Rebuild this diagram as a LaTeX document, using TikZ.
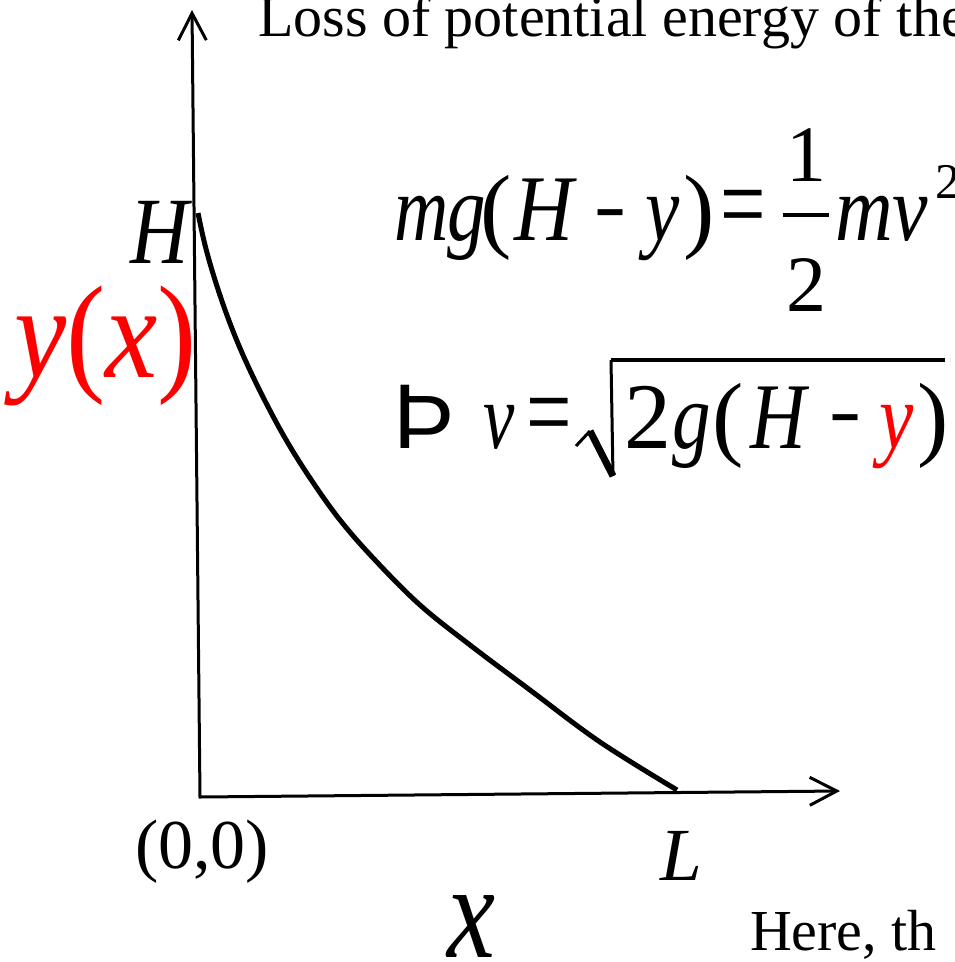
\documentclass[tikz,border=0pt]{standalone}
\usepackage{fontspec}
\usepackage{graphicx}
\setmainfont{Liberation Serif}
\newfontfamily\thornfont{Liberation Sans}
\usetikzlibrary{arrows.meta}
\newcommand\fsz[1]{\fontsize{#1}{#1}\selectfont}
\newcommand\sx[2]{\scalebox{#1}[1]{#2}}
\begin{document}
\begin{tikzpicture}[x=1pt,y=-1pt,
  gl/.style={anchor=base west,inner sep=0pt,outer sep=0pt},
  glc/.style={anchor=base,inner sep=0pt,outer sep=0pt},
  sym/.style={anchor=center,inner sep=0pt,outer sep=0pt},
  big/.style={font=\fsz{94}},
  bigit/.style={font=\fsz{94}\itshape},
  eqsign/.style={sym,font=\fsz{112}},
  minussign/.style={sym,font=\fsz{80}},
  redtxt/.style={text=red},
  axisline/.style={line width=3pt,line join=miter,
    {Straight Barb[length=27pt,width=28pt,line width=3pt]}-{Straight Barb[length=27pt,width=28pt,line width=3pt]}},
  curveline/.style={line width=5pt,line cap=butt},
  rule/.style={line width=4.5pt}]
\useasboundingbox (0,0) rectangle (955,962);

% axes
\coordinate (O) at (200,797);
\coordinate (Ytip) at (192,10);
\coordinate (Xtip) at (840,791);
\draw[axisline] (Ytip) -- (O) -- (Xtip);

% curve
\draw[curveline] plot[smooth,tension=0.6] coordinates {(198,213) (205,245) (215,280) (228,318) (243,355) (262,395) (285,438) (310,478) (340,520) (375,560) (420,605) (470,645) (530,690) (600,742) (677,790)};

% texts
\node[gl,font=\fsz{58}] (loss) at (258,36) {Loss of potential energy of the};
\node[gl,font=\fsz{58}] (here) at (750,950) {Here, th};
\node[gl,font=\fsz{95}\itshape] (Hlab) at (130,263) {\sx{0.85}{H}};
\node[gl,font=\fsz{132},redtxt] (yx) at (14,377) {\sx{0.89}{\itshape y\upshape(\itshape x\upshape)}};
\node[gl,font=\fsz{70}] (orig) at (135,868) {(0,0)};
\node[gl,font=\fsz{75}\itshape] (Llab) at (660,880) {L};
\node[gl,font=\fsz{135}\itshape] (xlab) at (447,957) {\sx{0.8}{x}};

% equation 1
\node[gl,bigit] (e1m) at (394,240) {\sx{0.8}{m}};
\node[gl,bigit] (e1g) at (447,240) {\sx{0.82}{g}};
\node[gl,big] (e1lp) at (480,240) {(};
\node[gl,bigit] (e1H) at (514,240) {\sx{0.87}{H}};
\node[minussign] (e1minus) at (610,221) {\sx{1.2}{-}};
\node[gl,bigit] (e1y) at (645,240) {\sx{0.82}{y}};
\node[gl,big] (e1rp) at (683,240) {)};
\node[eqsign] (e1eq) at (743,216) {\sx{0.72}{=}};
\coordinate (fbL) at (783,215);
\coordinate (fbR) at (829,215);
\draw[rule] (fbL) -- (fbR);
\node[glc,font=\fsz{80}] (e1one) at (806,181) {1};
\node[glc,font=\fsz{80}] (e1two) at (806,311) {2};
\node[gl,bigit] (e1mv) at (835,240) {\sx{0.85}{mv}};
\node[gl,font=\fsz{50}] (e1sq) at (935,198) {2};

% equation 2
\node[gl,font=\fsz{92}\thornfont] (e2th) at (393,448) {Þ};
\node[gl,bigit] (e2v) at (483,448) {\sx{0.75}{v}};
\node[eqsign] (e2eq) at (549,424) {\sx{0.72}{=}};
\coordinate (r1) at (576,446);
\coordinate (r2) at (590,431);
\coordinate (r3) at (613,476);
\coordinate (r4) at (611,360);
\coordinate (r5) at (945,360);
\draw[line width=3pt,line join=miter] (r1) -- (r2);
\draw[line width=7pt,line cap=butt] (r2) -- (r3);
\draw[line width=3pt,line join=miter] (r3) -- (r4);
\draw[rule] (r4) -- (r5);
\node[gl,big] (e2two) at (624,448) {2};
\node[gl,bigit] (e2g) at (672,448) {\sx{0.82}{g}};
\node[gl,big] (e2lp) at (712,448) {(};
\node[gl,bigit] (e2H) at (750,448) {\sx{0.82}{H}};
\node[minussign] (e2minus) at (845,426) {\sx{1.2}{-}};
\node[gl,bigit,redtxt] (e2y) at (879,448) {\sx{0.82}{y}};
\node[gl,big] (e2rp) at (917,448) {)};
\end{tikzpicture}
\end{document}
